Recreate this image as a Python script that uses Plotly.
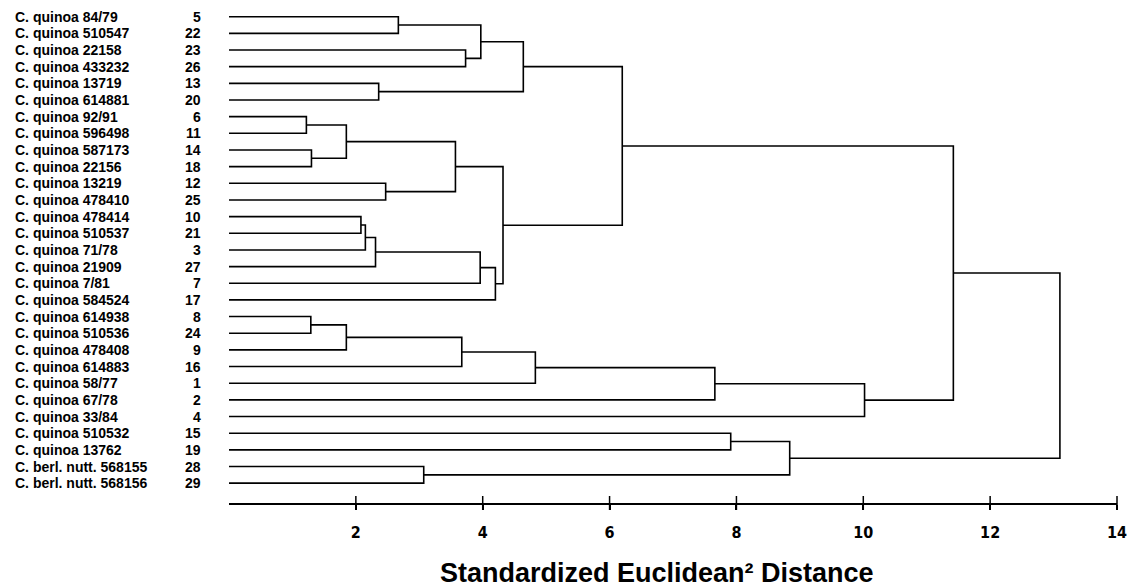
import plotly.graph_objects as go

# ---- data ----
leaf_names = [
    "C. quinoa 84/79", "C. quinoa 510547", "C. quinoa 22158", "C. quinoa 433232",
    "C. quinoa 13719", "C. quinoa 614881", "C. quinoa 92/91", "C. quinoa 596498",
    "C. quinoa 587173", "C. quinoa 22156", "C. quinoa 13219", "C. quinoa 478410",
    "C. quinoa 478414", "C. quinoa 510537", "C. quinoa 71/78", "C. quinoa 21909",
    "C. quinoa 7/81", "C. quinoa 584524", "C. quinoa 614938", "C. quinoa 510536",
    "C. quinoa 478408", "C. quinoa 614883", "C. quinoa 58/77", "C. quinoa 67/78",
    "C. quinoa 33/84", "C. quinoa 510532", "C. quinoa 13762",
    "C. berl. nutt. 568155", "C. berl. nutt. 568156",
]
leaf_ids = [5, 22, 23, 26, 13, 20, 6, 11, 14, 18, 12, 25, 10, 21, 3, 27, 7, 17,
            8, 24, 9, 16, 1, 2, 4, 15, 19, 28, 29]

# merges: (child_a, child_b, distance); leaves are "L<i>", clusters "M<k>"
merge_a = ["L0", "L2", "M1", "L4", "M3", "L6", "L8", "M6", "L10", "M8", "L12", "M11",
           "M12", "M13", "M14", "M10", "M5", "L18", "M18", "M19", "M20", "M21", "M22",
           "M17", "L25", "L27", "M25", "M24"]
merge_b = ["L1", "L3", "M2", "L5", "M4", "L7", "L9", "M7", "L11", "M9", "L13", "L14",
           "L15", "L16", "L17", "M15", "M16", "L19", "L20", "L21", "L22", "L23", "L24",
           "M23", "L26", "L28", "M26", "M27"]
merge_dist = [2.67, 3.73, 3.97, 2.36, 4.64, 1.22, 1.30, 1.85, 2.47, 3.57, 2.08, 2.15,
              2.31, 3.96, 4.20, 4.32, 6.20, 1.29, 1.85, 3.67, 4.83, 7.66, 10.02,
              11.42, 7.91, 3.07, 8.84, 13.10]

x_ticks = [2, 4, 6, 8, 10, 12, 14]
x_title = "Standardized Euclidean² Distance"

# ---- layout constants (page has an 8px body margin) ----
OFF = 8
W, H = 1136 - OFF, 588 - OFF
L_M = 228.9 - OFF
R_M = 1136 - 1116.7
T_M = 0
PLOT_H = 503.3 - OFF
B_M = H - T_M - PLOT_H
PLOT_W = W - L_M - R_M
n = len(leaf_names)
ROW0 = 16.7 - OFF
ROW_STEP = 16.67
y_top = 1 - ROW0 / ROW_STEP
y_max = 1 + (PLOT_H - ROW0) / ROW_STEP

# ---- build dendrogram path ----
pos = {}
for i in range(n):
    pos["L%d" % i] = (0.0, i + 1)
xs, ys = [], []
for k, (a, b, d) in enumerate(zip(merge_a, merge_b, merge_dist), start=1):
    xa, ya = pos[a]
    xb, yb = pos[b]
    xs += [xa, d, d, xb, None]
    ys += [ya, ya, yb, yb, None]
    pos["M%d" % k] = (d, (ya + yb) / 2)

fig = go.Figure()
fig.add_trace(go.Scatter(x=xs, y=ys, mode="lines",
                         line=dict(color="black", width=1.6),
                         cliponaxis=False,
                         hoverinfo="skip", showlegend=False))
# crossing tick marks on the axis
fig.add_trace(go.Scatter(x=x_ticks, y=[y_max] * len(x_ticks), mode="markers",
                         marker=dict(symbol="line-ns", size=10,
                                     line=dict(color="black", width=1.5)),
                         cliponaxis=False, hoverinfo="skip", showlegend=False))

label_font = dict(family="Liberation Sans, Arial, sans-serif", size=14, color="black")
for i, (nm, idn) in enumerate(zip(leaf_names, leaf_ids)):
    fig.add_annotation(x=(12.7 - OFF - L_M) / PLOT_W, xref="paper", y=i + 1, yref="y",
                       text="<b>%s</b>" % nm, showarrow=False, xanchor="left",
                       yanchor="middle", font=label_font)
    fig.add_annotation(x=(202.5 - OFF - L_M) / PLOT_W, xref="paper", y=i + 1, yref="y",
                       text="<b>%d</b>" % idn, showarrow=False, xanchor="right",
                       yanchor="middle", font=label_font)

fig.add_annotation(x=(657 - OFF - L_M) / PLOT_W, xref="paper",
                   y=-(573 - OFF - PLOT_H) / PLOT_H, yref="paper",
                   text="<b>%s</b>" % x_title, showarrow=False,
                   xanchor="center", yanchor="middle",
                   font=dict(family="Liberation Sans, Arial, sans-serif", size=27, color="black"))

fig.update_layout(
    width=W, height=H, autosize=False,
    margin=dict(l=L_M, r=R_M, t=T_M, b=B_M, pad=0),
    paper_bgcolor="white", plot_bgcolor="white",
    xaxis=dict(range=[0, 14], tickvals=x_ticks,
               ticktext=["<b>%d</b>" % t for t in x_ticks],
               showline=True, linecolor="black", linewidth=1.5,
               ticks="outside", ticklen=5, tickwidth=1.5, tickcolor="black",
               ticklabelstandoff=9,
               showgrid=False, zeroline=False,
               tickfont=dict(family="Liberation Sans Narrow, Arial Narrow, DejaVu Sans Condensed, Liberation Sans",
                             size=16, color="black")),
    yaxis=dict(range=[y_max, y_top], showticklabels=False, showgrid=False,
               zeroline=False, showline=False, ticks=""),
)

fig.write_html("out.html")
